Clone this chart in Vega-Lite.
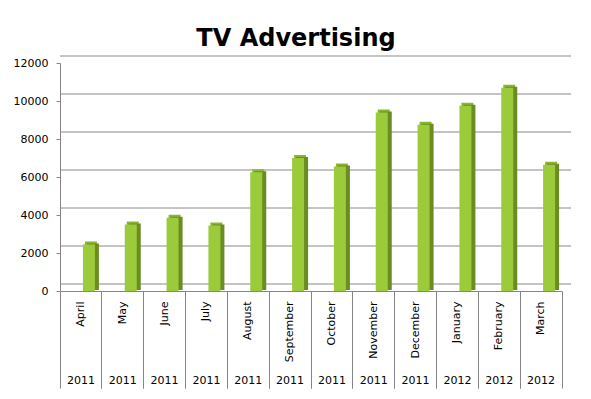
{
  "$schema": "https://vega.github.io/schema/vega-lite/v6.json",
  "width": 502,
  "height": 228,
  "autosize": "none",
  "padding": {"left": 60, "top": 63, "right": 29, "bottom": 108},
  "background": "white",
  "title": {"text": "TV Advertising", "font": "DejaVu Sans", "fontSize": 24, "fontWeight": "bold", "color": "black", "anchor": "middle", "dx": -15, "offset": 4},
  "config": {"view": {"stroke": null}, "font": "DejaVu Sans"},
  "datasets": {
    "ads": [
      {"key": "April 2011", "month": "April", "year": "2011", "value": 2450},
      {"key": "May 2011", "month": "May", "year": "2011", "value": 3500},
      {"key": "June 2011", "month": "June", "year": "2011", "value": 3850},
      {"key": "July 2011", "month": "July", "year": "2011", "value": 3450},
      {"key": "August 2011", "month": "August", "year": "2011", "value": 6250},
      {"key": "September 2011", "month": "September", "year": "2011", "value": 7000},
      {"key": "October 2011", "month": "October", "year": "2011", "value": 6550},
      {"key": "November 2011", "month": "November", "year": "2011", "value": 9400},
      {"key": "December 2011", "month": "December", "year": "2011", "value": 8750},
      {"key": "January 2012", "month": "January", "year": "2012", "value": 9750},
      {"key": "February 2012", "month": "February", "year": "2012", "value": 10700},
      {"key": "March 2012", "month": "March", "year": "2012", "value": 6650}
    ],
    "grid": [{"v": 0}, {"v": 2000}, {"v": 4000}, {"v": 6000}, {"v": 8000}, {"v": 10000}, {"v": 12000}]
  },
  "layer": [
    {
      "data": {"name": "grid"},
      "mark": {"type": "rule", "color": "#8a8a8a", "strokeWidth": 1.2, "xOffset": 9, "yOffset": -7},
      "encoding": {
        "y": {"field": "v", "type": "quantitative", "scale": {"domain": [0, 12000], "nice": false}, "axis": {"values": [0, 2000, 4000, 6000, 8000, 10000, 12000], "format": "d", "title": null, "grid": false, "domainColor": "#868686", "tickColor": "#868686", "tickSize": 4, "labelPadding": 8, "labelFontSize": 11, "labelColor": "black", "labelFont": "DejaVu Sans"}}
      }
    },
    {
      "data": {"name": "ads"},
      "mark": {"type": "bar", "color": "#8bb534", "width": 12, "xOffset": 10, "yOffset": -3},
      "encoding": {
        "x": {"field": "key", "type": "nominal", "sort": null, "scale": {"paddingInner": 0, "paddingOuter": 0}, "axis": null},
        "y": {"field": "value", "type": "quantitative", "scale": {"domain": [0, 12000], "nice": false}, "axis": {"values": [0, 2000, 4000, 6000, 8000, 10000, 12000], "format": "d", "title": null, "grid": false, "domainColor": "#868686", "tickColor": "#868686", "tickSize": 4, "labelPadding": 8, "labelFontSize": 11, "labelColor": "black", "labelFont": "DejaVu Sans"}}
      }
    },
    {
      "data": {"name": "ads"},
      "mark": {"type": "bar", "color": "#6a8c22", "width": 12, "xOffset": 12, "yOffset": -1},
      "encoding": {
        "x": {"field": "key", "type": "nominal", "sort": null, "scale": {"paddingInner": 0, "paddingOuter": 0}, "axis": {"orient": "bottom", "title": null, "domain": false, "ticks": true, "bandPosition": 1, "tickSize": 97, "tickColor": "#868686", "labelExpr": "split(datum.value, ' ')[1]", "labelAngle": 0, "labelAlign": "center", "labelBaseline": "top", "labelPadding": -14, "labelFontSize": 11, "labelColor": "black", "labelFont": "DejaVu Sans", "labelOverlap": false}},
        "y": {"field": "value", "type": "quantitative", "scale": {"domain": [0, 12000], "nice": false}, "axis": {"values": [0, 2000, 4000, 6000, 8000, 10000, 12000], "format": "d", "title": null, "grid": false, "domainColor": "#868686", "tickColor": "#868686", "tickSize": 4, "labelPadding": 8, "labelFontSize": 11, "labelColor": "black", "labelFont": "DejaVu Sans"}}
      }
    },
    {
      "data": {"name": "ads"},
      "mark": {"type": "bar", "color": "#9bcb3b", "width": 12, "xOffset": 8},
      "encoding": {
        "x": {"field": "key", "type": "nominal", "sort": null, "scale": {"paddingInner": 0, "paddingOuter": 0}, "axis": {"orient": "bottom", "title": null, "domain": true, "domainColor": "#868686", "ticks": true, "bandPosition": 0, "tickSize": 97, "tickColor": "#868686", "labelExpr": "split(datum.value, ' ')[0]", "labelAngle": -90, "labelAlign": "right", "labelBaseline": "middle", "labelPadding": -87, "labelFontSize": 11, "labelColor": "black", "labelFont": "DejaVu Sans", "labelOverlap": false}},
        "y": {"field": "value", "type": "quantitative", "scale": {"domain": [0, 12000], "nice": false}, "axis": {"values": [0, 2000, 4000, 6000, 8000, 10000, 12000], "format": "d", "title": null, "grid": false, "domainColor": "#868686", "tickColor": "#868686", "tickSize": 4, "labelPadding": 8, "labelFontSize": 11, "labelColor": "black", "labelFont": "DejaVu Sans"}}
      }
    }
  ],
  "resolve": {"axis": {"x": "independent"}}
}
